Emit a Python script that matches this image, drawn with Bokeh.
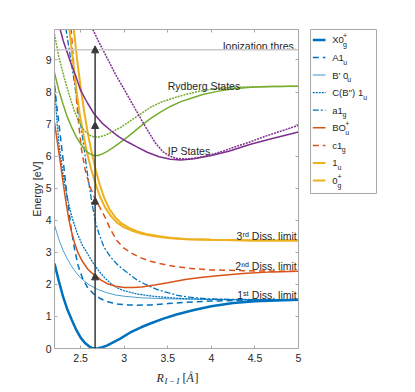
from bokeh.plotting import figure
from bokeh.models import Range1d, LinearAxis, FixedTicker, Arrow, NormalHead, CustomJSTickFormatter, Span
from bokeh.layouts import row, column
from bokeh.core.properties import value
from bokeh.embed import file_html
from bokeh.resources import INLINE

# ---------------- data ----------------
X_TICKS = [2.5, 3, 3.5, 4, 4.5, 5]
Y_TICKS = [0, 1, 2, 3, 4, 5, 6, 7, 8, 9]

X0_R = [2.2, 2.25, 2.3, 2.35, 2.4, 2.45, 2.5, 2.55, 2.6, 2.63, 2.666, 2.7, 2.75, 2.8, 2.85, 2.95, 3.07, 3.2, 3.3, 3.45, 3.6, 3.8, 4.0, 4.25, 4.5, 4.75, 5.0]
X0_E = [2.65, 2.1, 1.6, 1.2, 0.88, 0.58, 0.34, 0.17, 0.06, 0.02, 0.0, 0.01, 0.04, 0.09, 0.16, 0.3, 0.5, 0.67, 0.78, 0.93, 1.06, 1.2, 1.32, 1.42, 1.47, 1.5, 1.52]

A1_R = [2.2, 2.22, 2.26, 2.3, 2.34, 2.39, 2.43, 2.47, 2.52, 2.58, 2.65, 2.73, 2.82, 2.92, 3.05, 3.15, 3.3, 3.5, 3.7, 4.0, 4.5, 5.0]
A1_E = [8.2, 7.7, 6.8, 5.85, 4.85, 3.75, 3.1, 2.6, 2.2, 1.9, 1.7, 1.55, 1.45, 1.39, 1.36, 1.35, 1.36, 1.4, 1.44, 1.48, 1.51, 1.52]

BP_R = [2.2, 2.25, 2.3, 2.35, 2.4, 2.45, 2.5, 2.6, 2.7, 2.8, 2.9, 3.0, 3.2, 3.5, 4.0, 4.5, 5.0]
BP_E = [3.85, 3.4, 3.05, 2.78, 2.55, 2.36, 2.2, 1.98, 1.84, 1.74, 1.67, 1.63, 1.58, 1.55, 1.53, 1.52, 1.52]

CB_R = [2.2, 2.22, 2.25, 2.3, 2.35, 2.4, 2.46, 2.52, 2.58, 2.64, 2.7, 2.77, 2.85, 2.92, 3.0, 3.15, 3.3, 3.45, 3.65, 4.0, 4.5, 5.0]
CB_E = [8.3, 7.4, 6.4, 5.4, 4.65, 4.1, 3.6, 3.22, 2.95, 2.68, 2.45, 2.22, 2.02, 1.89, 1.8, 1.7, 1.64, 1.6, 1.56, 1.53, 1.52, 1.52]

A1G_R = [2.33, 2.37, 2.42, 2.46, 2.5, 2.54, 2.57, 2.6, 2.635, 2.67, 2.71, 2.77, 2.845, 2.92, 3.0, 3.08, 3.15, 3.23, 3.3, 3.4, 3.5, 3.61, 3.75, 3.95, 4.3, 5.0]
A1G_E = [10.0, 9.3, 8.45, 7.7, 7.0, 6.25, 5.6, 5.05, 4.45, 3.95, 3.58, 3.15, 2.85, 2.62, 2.44, 2.27, 2.13, 2.02, 1.93, 1.82, 1.74, 1.66, 1.6, 1.55, 1.53, 1.52]

BO_R = [2.2, 2.235, 2.27, 2.3, 2.33, 2.36, 2.39, 2.43, 2.47, 2.52, 2.58, 2.63, 2.67, 2.73, 2.8, 2.9, 3.0, 3.1, 3.2, 3.35, 3.5, 3.7, 3.9, 4.1, 4.4, 4.7, 5.0]
BO_E = [7.05, 6.4, 5.75, 5.15, 4.6, 4.1, 3.7, 3.3, 2.98, 2.72, 2.48, 2.35, 2.28, 2.14, 2.03, 1.94, 1.9, 1.9, 1.92, 1.98, 2.05, 2.15, 2.22, 2.28, 2.35, 2.39, 2.41]

C1G_R = [2.39, 2.43, 2.47, 2.51, 2.55, 2.6, 2.66, 2.72, 2.77, 2.845, 2.92, 3.0, 3.1, 3.2, 3.3, 3.42, 3.6, 3.8, 4.0, 4.5, 5.0]
C1G_E = [10.0, 8.5, 7.2, 6.2, 5.6, 5.1, 4.7, 4.4, 4.15, 3.7, 3.35, 3.12, 2.95, 2.82, 2.72, 2.64, 2.55, 2.49, 2.45, 2.42, 2.41]

U1_R = [2.37, 2.41, 2.45, 2.49, 2.53, 2.57, 2.62, 2.67, 2.72, 2.78, 2.85, 2.92, 3.0, 3.1, 3.2, 3.35, 3.5, 3.7, 4.0, 4.5, 5.0]
U1_E = [10.0, 9.0, 8.1, 7.3, 6.7, 6.15, 5.6, 5.15, 4.75, 4.4, 4.12, 3.92, 3.78, 3.66, 3.58, 3.5, 3.45, 3.41, 3.39, 3.37, 3.37]

G0_R = [2.42, 2.46, 2.5, 2.54, 2.58, 2.62, 2.67, 2.72, 2.77, 2.83, 2.9, 2.97, 3.05, 3.15, 3.25, 3.4, 3.55, 3.75, 4.0, 4.5, 5.0]
G0_E = [10.0, 9.0, 8.15, 7.4, 6.75, 6.2, 5.6, 5.1, 4.7, 4.35, 4.08, 3.9, 3.77, 3.65, 3.57, 3.5, 3.45, 3.41, 3.39, 3.37, 3.37]

RYD_R = [2.2, 2.25, 2.3, 2.35, 2.4, 2.45, 2.5, 2.55, 2.6, 2.65, 2.7, 2.75, 2.8, 2.88, 2.96, 3.04, 3.12, 3.2, 3.3, 3.42, 3.53, 3.65, 3.76, 3.9, 4.07, 4.25, 4.45, 4.7, 5.0]
RYD_E = [8.6, 8.05, 7.6, 7.2, 6.88, 6.6, 6.38, 6.2, 6.08, 6.02, 6.02, 6.07, 6.14, 6.28, 6.44, 6.6, 6.78, 6.96, 7.17, 7.38, 7.55, 7.7, 7.8, 7.92, 8.02, 8.1, 8.15, 8.17, 8.18]

RYD2_R = [2.2, 2.25, 2.31, 2.37, 2.425, 2.48, 2.54, 2.6, 2.654, 2.71, 2.77, 2.86, 2.96, 3.07, 3.19, 3.3, 3.42, 3.55, 3.7, 3.9, 4.1, 4.3, 4.6, 5.0]
RYD2_E = [9.8, 9.1, 8.46, 7.9, 7.42, 7.08, 6.8, 6.66, 6.6, 6.6, 6.64, 6.75, 6.9, 7.1, 7.32, 7.52, 7.68, 7.8, 7.92, 8.05, 8.12, 8.15, 8.17, 8.18]

IP_R = [2.265, 2.3, 2.35, 2.39, 2.45, 2.5, 2.58, 2.654, 2.75, 2.845, 2.94, 3.04, 3.15, 3.265, 3.4, 3.53, 3.65, 3.8, 4.0, 4.2, 4.45, 4.7, 5.0]
IP_E = [9.95, 9.6, 9.2, 8.88, 8.45, 8.05, 7.65, 7.32, 7.02, 6.8, 6.6, 6.44, 6.28, 6.12, 5.98, 5.9, 5.88, 5.92, 6.02, 6.15, 6.37, 6.55, 6.75]

IP2_R = [2.64, 2.72, 2.81, 2.9, 3.0, 3.1, 3.19, 3.28, 3.36, 3.44, 3.52, 3.6, 3.7, 3.8, 3.9, 4.0, 4.13, 4.26, 4.45, 4.64, 4.82, 5.0]
IP2_E = [9.95, 9.5, 9.03, 8.55, 8.08, 7.6, 7.17, 6.75, 6.4, 6.15, 6.0, 5.93, 5.91, 5.93, 5.98, 6.05, 6.15, 6.28, 6.45, 6.64, 6.8, 6.96]

IONIZATION = 9.32
DISS_LIMITS = [1.52, 2.41, 3.37]
DISS_TEXT = ["1ˢᵗ Diss. limit", "2ⁿᵈ Diss. limit", "3ʳᵈ Diss. limit"]
R_EQ = 2.666
PHOTON_TIPS = [2.36, 4.72, 7.08, 9.44]

LEGEND_MAIN = ["X0", "A1", "B′ 0", "C(B′′) 1", "a1", "BO", "c1", "1", "0"]
LEGEND_SUP = ["+", "", "", "", "", "+", "", "", "+"]
LEGEND_SUB = ["g", "u", "u", "u", "g", "u", "g", "u", "g"]

# ---------------- styling ----------------
FONT = "Liberation Sans"
SERIF = "Liberation Serif"
TXT = "#262626"
AX = "#a8a8a8"
BLUE = "#0072BD"
RED = "#D95319"
YEL = "#EDB120"
GRN = "#77AC30"
PUR = "#7E2F8E"

legend_curves = [
    (X0_R, X0_E, BLUE, 2.5, "solid"),
    (A1_R, A1_E, BLUE, 1.5, "6 4"),
    (BP_R, BP_E, BLUE, 0.7, "solid"),
    (CB_R, CB_E, BLUE, 1.3, "2 1"),
    (A1G_R, A1G_E, BLUE, 1.3, "6 2 2 2"),
    (BO_R, BO_E, RED, 1.5, "solid"),
    (C1G_R, C1G_E, RED, 1.5, "6 4"),
    (U1_R, U1_E, YEL, 2.0, "solid"),
    (G0_R, G0_E, YEL, 2.0, "solid"),
]
other_curves = [
    (RYD_R, RYD_E, GRN, 1.5, "solid"),
    (RYD2_R, RYD2_E, GRN, 1.5, "2 1"),
    (IP_R, IP_E, PUR, 1.5, "solid"),
    (IP2_R, IP2_E, PUR, 1.5, "2 1"),
]

xr = Range1d(2.2, 5.0)
p = figure(width=310, height=366, x_range=xr, y_range=Range1d(0, 9.95),
           output_backend="svg", toolbar_location=None,
           min_border_left=54, min_border_right=12, min_border_top=29, min_border_bottom=18)
p.xgrid.visible = False
p.ygrid.visible = False
p.outline_line_color = None


def style_axis(ax, ticks, show_labels):
    ax.ticker = FixedTicker(ticks=ticks)
    ax.axis_line_color = AX
    ax.major_tick_line_color = AX
    ax.major_tick_in = 3
    ax.major_tick_out = 0
    ax.minor_tick_line_color = None
    ax.major_label_text_font = FONT
    ax.major_label_text_font_size = "10.5px"
    ax.major_label_text_color = TXT
    if show_labels:
        ax.major_label_overrides = {t: f"{t:g}" for t in ticks}
    else:
        ax.formatter = CustomJSTickFormatter(code="return ''")
        ax.major_label_standoff = 0


style_axis(p.xaxis[0], X_TICKS, True)
style_axis(p.yaxis[0], Y_TICKS, True)
p.xaxis[0].major_label_standoff = 5
p.yaxis[0].major_label_standoff = 3
p.yaxis[0].axis_label = "Energy [eV]"
p.yaxis[0].axis_label_text_font = FONT
p.yaxis[0].axis_label_text_font_style = "normal"
p.yaxis[0].axis_label_text_font_size = "10.5px"
p.yaxis[0].axis_label_text_color = TXT
p.yaxis[0].axis_label_standoff = 0

ax_r = LinearAxis()
style_axis(ax_r, Y_TICKS, False)
p.add_layout(ax_r, "right")
ax_t = LinearAxis()
style_axis(ax_t, X_TICKS, False)
p.add_layout(ax_t, "above")

# ionization threshold line
p.add_layout(Span(location=IONIZATION, dimension="width", line_color="#c8c8c8", line_width=1.5))

for R, E, c, w, d in legend_curves + other_curves:
    p.line(R, E, line_color=c, line_width=w, line_dash=d)

# multiphoton arrows
prev = 0.0
for tip in PHOTON_TIPS:
    p.add_layout(Arrow(end=NormalHead(size=7, fill_color="#383838", line_color="#383838"),
                       x_start=R_EQ, y_start=prev, x_end=R_EQ, y_end=tip,
                       line_color="#383838", line_width=1.5))
    prev = tip

# in-plot annotations
p.text(x=[4.98], y=[IONIZATION + 0.12], text=["Ionization thres."], text_align="right",
       text_baseline="alphabetic", text_font=value(FONT), text_font_size="10.5px", text_color=TXT)
p.text(x=[4.98] * 3, y=[d + 0.15 for d in DISS_LIMITS], text=DISS_TEXT, text_align="right",
       text_baseline="alphabetic", text_font=value(FONT), text_font_size="10.5px", text_color=TXT)
p.text(x=[3.5, 3.5], y=[8.2, 6.17], text=["Rydberg States", "IP States"], text_align="left",
       text_baseline="alphabetic", text_font=value(FONT), text_font_size="10.5px", text_color=TXT)

# ---------------- x axis label panel:  R_{I-I} [Å] ----------------
lab = figure(width=310, height=25, x_range=xr, y_range=Range1d(0, 25),
             x_axis_type=None, y_axis_type=None, output_backend="svg", toolbar_location=None,
             min_border_left=54, min_border_right=12, min_border_top=0, min_border_bottom=0)
lab.outline_line_color = None
XL = 3.6
lab.text(x=[XL], y=[14], x_offset=[-20], text=["R"], text_font=value(SERIF), text_font_style="italic",
         text_font_size="12px", text_color=TXT, text_baseline="alphabetic", text_align="left")
lab.text(x=[XL], y=[11], x_offset=[-12], text=["I\u2009\u2212\u2009I"], text_font=value(SERIF),
         text_font_style="italic", text_font_size="8.5px", text_color=TXT, text_baseline="alphabetic",
         text_align="left")
lab.text(x=[XL], y=[14], x_offset=[6], text=["["], text_font=value(SERIF),
         text_font_size="12px", text_color=TXT, text_baseline="alphabetic", text_align="left")
lab.text(x=[XL], y=[14], x_offset=[10], text=["Å"], text_font=value(SERIF), text_font_style="italic",
         text_font_size="12px", text_color=TXT, text_baseline="alphabetic", text_align="left")
lab.text(x=[XL], y=[14], x_offset=[18], text=["]"], text_font=value(SERIF),
         text_font_size="12px", text_color=TXT, text_baseline="alphabetic", text_align="left")

# ---------------- legend (separate panel) ----------------
LH = 180
leg = figure(width=68, height=29 + LH + 2, x_range=Range1d(0, 66), y_range=Range1d(0, LH),
             x_axis_type=None, y_axis_type=None, output_backend="svg", toolbar_location=None,
             min_border_left=0, min_border_right=2, min_border_top=29, min_border_bottom=2)
leg.outline_line_color = AX
MAIN_W = [10.8, 11.0, 15.0, 31.0, 10.2, 13.0, 9.6, 5.4, 5.4]
for i, (cur, main, sup, sub) in enumerate(zip(legend_curves, LEGEND_MAIN, LEGEND_SUP, LEGEND_SUB)):
    _, _, c, w, d = cur
    yc = LH - (11.4 + 19.3 * i)
    leg.line([2.3, 15.0], [yc, yc], line_color=c, line_width=1.5 if w < 1 else w, line_dash=d,
             line_alpha=0.5 if w < 1 else 1.0)
    leg.text(x=[21.7], y=[yc], text=[main], text_baseline="middle", text_align="left",
             text_font=value(FONT), text_font_size="9.5px", text_color=TXT)
    if sup:
        leg.text(x=[21.7 + MAIN_W[i]], y=[yc + 4.5], text=[sup], text_baseline="middle", text_align="left",
                 text_font=value(FONT), text_font_size="7px", text_color=TXT)
    leg.text(x=[21.7 + MAIN_W[i]], y=[yc - 5.0], text=[sub], text_baseline="middle", text_align="left",
             text_font=value(FONT), text_font_size="7px", text_color=TXT)

layout = column(row(p, leg), lab)
open("out.html", "w").write(file_html(layout, INLINE))
